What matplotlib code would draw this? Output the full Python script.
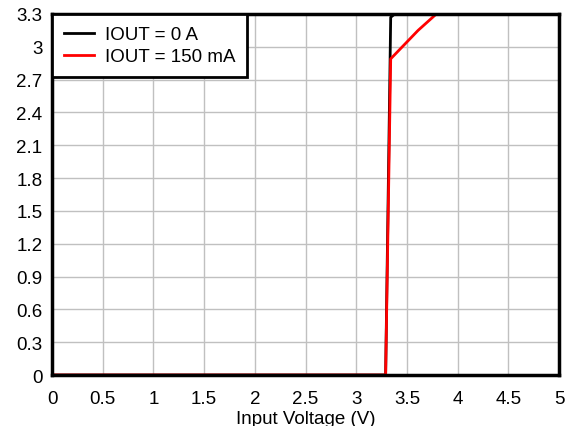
import numpy as np
import matplotlib
matplotlib.use('Agg')
import matplotlib.pyplot as plt

# data
vin_0a = [0, 3.29, 3.34, 3.38, 5.0]
vout_0a = [0, 0, 3.27, 3.3, 3.3]
vin_150ma = [0, 3.29, 3.34, 3.61, 3.79, 5.0]
vout_150ma = [0, 0, 2.89, 3.15, 3.3, 3.3]

xticks = np.arange(0, 5.01, 0.5)
yticks = np.arange(0, 3.31, 0.3)

plt.rcParams['font.family'] = ['Liberation Sans', 'DejaVu Sans']

fig = plt.figure(figsize=(5.73, 4.27), dpi=100)
ax = fig.add_axes([0.0908, 0.1194, 0.8848, 0.8455])

ax.plot(vin_0a, vout_0a, color='black', lw=2, label='IOUT = 0 A')
ax.plot(vin_150ma, vout_150ma, color='red', lw=2, label='IOUT = 150 mA')

ax.set_xlim(0, 5)
ax.set_ylim(0, 3.3)
ax.set_xticks(xticks)
ax.set_yticks(yticks)
ax.set_xticklabels(['%g' % round(v, 1) for v in xticks])
ax.set_yticklabels(['%g' % round(v, 1) for v in yticks])
ax.tick_params(length=0, labelsize=13.5)
ax.tick_params(axis='x', pad=11)
ax.tick_params(axis='y', pad=7)
ax.grid(True, color='#c0c0c0', lw=1)
ax.set_axisbelow(True)
for s in ax.spines.values():
    s.set_linewidth(2.5)
ax.set_xlabel('Input Voltage (V)', fontsize=13.5, labelpad=2)

leg = ax.legend(loc='upper left', fontsize=13.5, frameon=True, fancybox=False,
                borderaxespad=0, handlelength=1.6, borderpad=0.65, labelspacing=0.25,
                handletextpad=0.55)
leg.get_frame().set_edgecolor('black')
leg.get_frame().set_linewidth(2)
leg.get_frame().set_alpha(1)

plt.savefig('out.png', dpi=100)
